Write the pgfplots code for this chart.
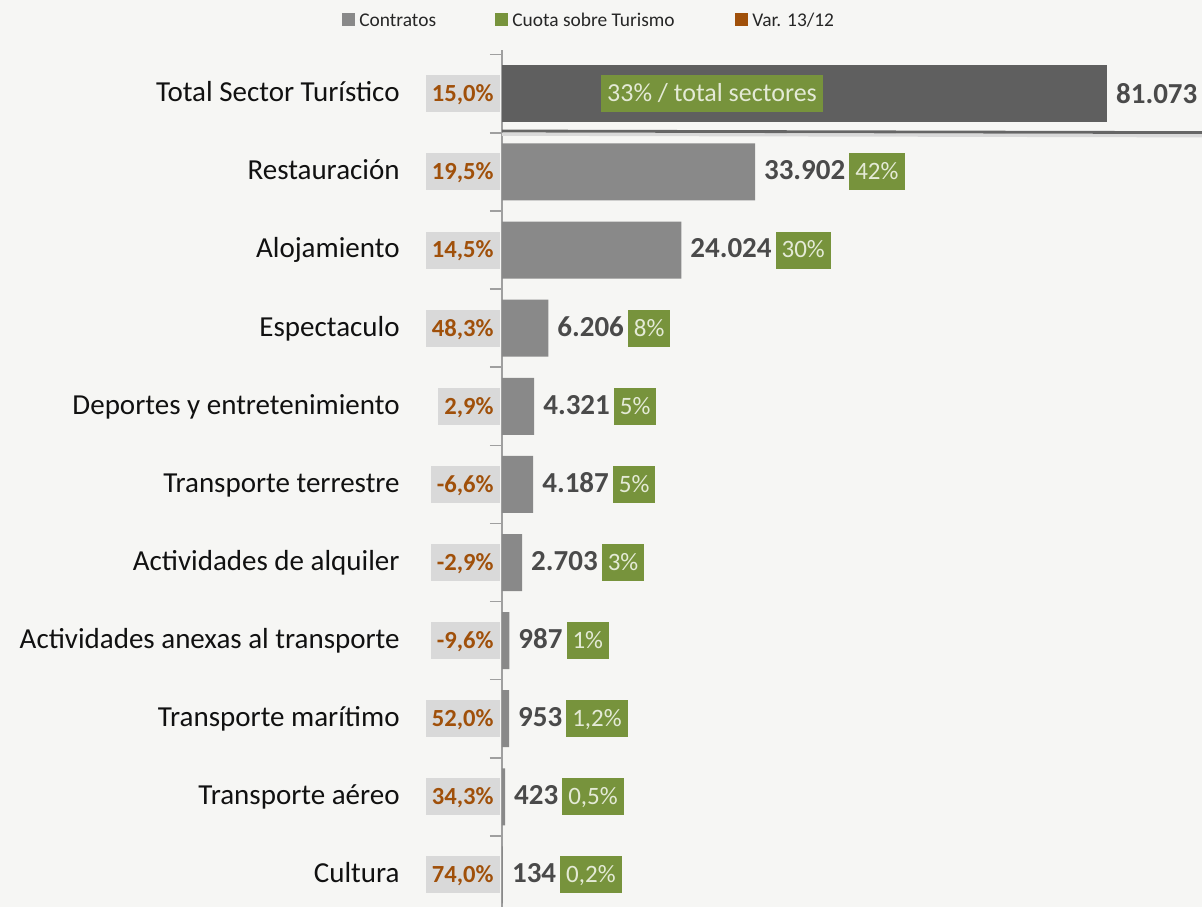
\documentclass[border=0pt]{standalone}
\usepackage{fontspec}
\setmainfont{Carlito}
\usepackage{pgfplots}
\pgfplotsset{compat=1.18}

\definecolor{bgc}{HTML}{F6F6F4}
\definecolor{barg}{HTML}{898989}
\definecolor{bartot}{HTML}{5F5F5F}
\definecolor{valc}{HTML}{4A4A4A}
\definecolor{shgreen}{HTML}{77933C}
\definecolor{shtext}{HTML}{E4EAD6}
\definecolor{varbg}{HTML}{D9D9D9}
\definecolor{varc}{HTML}{A0500A}
\definecolor{catc}{HTML}{111111}

\newcommand\shbox[1]{{\setlength\fboxsep{3pt}\colorbox{shgreen}{\mdseries\fontsize{12.5}{14}\selectfont\color{shtext}\rule[-2.3pt]{0pt}{12.5pt}#1}}}
\newcommand\varbox[1]{{\setlength\fboxsep{3pt}\colorbox{varbg}{\fontsize{12.3}{14}\selectfont\bfseries\color{varc}\rule[-2.3pt]{0pt}{12.5pt}#1}}}
\newcommand\cat[2]{#1\makebox[50pt][r]{\varbox{#2\%}}}

\begin{document}
\begin{tikzpicture}
\path[use as bounding box, fill=bgc] (-251pt,0pt) rectangle (350pt,453.5pt);
\begin{axis}[
  at={(0,0)}, anchor=south west,
  scale only axis, width=350pt, height=428.5pt,
  xbar, bar width=28.5pt, bar shift=0pt,
  xmin=0, xmax=93800, ymin=-0.56, ymax=10.41, y dir=reverse,
  axis x line=none, axis y line*=left,
  y axis line style={-, draw=gray!75, line width=0.8pt},
  clip=false,
  ytick={0,...,10},
  yticklabels={
    {\cat{Total Sector Turístico}{15,0}},
    {\cat{Restauración}{19,5}},
    {\cat{Alojamiento}{14,5}},
    {\cat{Espectaculo}{48,3}},
    {\cat{Deportes y entretenimiento}{2,9}},
    {\cat{Transporte terrestre}{-6,6}},
    {\cat{Actividades de alquiler}{-2,9}},
    {\cat{Actividades anexas al transporte}{-9,6}},
    {\cat{Transporte marítimo}{52,0}},
    {\cat{Transporte aéreo}{34,3}},
    {\cat{Cultura}{74,0}}},
  yticklabel style={font=\fontsize{14.5}{17}\selectfont, text=catc, inner sep=0pt, xshift=-1pt},
  minor ytick={-0.5,0.5,...,10.5},
  major tick length=0pt, minor tick length=6pt, tick align=outside,
  minor tick style={gray!75, line width=0.8pt},
  /pgf/number format/assume math mode=true,
  point meta=x,
  nodes near coords={\pgfmathprintnumber[fixed, precision=0, 1000 sep={.}]{\pgfplotspointmeta}},
  every node near coord/.append style={font=\fontsize{14.5}{17}\selectfont\bfseries, text=valc, anchor=west, xshift=1pt},
]
\addplot[fill=bartot, draw=none] coordinates {(81073,0)};
\addplot[fill=barg, draw=none,
  visualization depends on={value \thisrow{share}\as\sh},
  nodes near coords={\pgfmathprintnumber[fixed, precision=0, 1000 sep={.}]{\pgfplotspointmeta}\hspace{2pt}\shbox{\sh\%}}]
  table[x=val, y=pos] {
pos val share
1 33902 42
2 24024 30
3 6206 8
4 4321 5
5 4187 5
6 2703 3
7 987 1
8 953 1,2
9 423 0,5
10 134 0,2
};
\node[inner sep=0pt] at (axis cs:28140,0) {\setlength\fboxsep{3pt}\colorbox{shgreen}{\fontsize{13}{15}\selectfont\color{shtext}\rule[-2.3pt]{0pt}{12.5pt}33\% / total sectores}};
\end{axis}
% linea separadora bajo el total
\draw[line width=1.6pt, black!15] (0pt,386.4pt) -- (350pt,385.6pt);
\draw[line width=1.4pt, black!60] (0pt,388pt) -- (350pt,387.2pt);
% leyenda
\begin{scope}[every node/.style={font=\fontsize{9.7}{11}\selectfont, text=black!85, anchor=west, inner sep=0pt}]
\fill[barg] (-80pt,440.5pt) rectangle (-73.5pt,447pt);
\node at (-71.5pt,443.5pt) {Contratos};
\fill[shgreen] (-3.5pt,440.5pt) rectangle (3pt,447pt);
\node at (5pt,443.5pt) {Cuota sobre Turismo};
\fill[varc] (116.5pt,440.5pt) rectangle (123pt,447pt);
\node at (125pt,443.5pt) {Var. 13/12};
\end{scope}
\end{tikzpicture}
\end{document}
